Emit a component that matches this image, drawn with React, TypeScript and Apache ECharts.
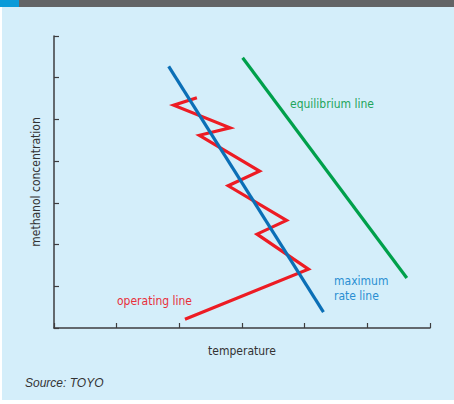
import React, { useEffect, useRef } from "react";
import * as echarts from "echarts";

// Data (axis units: x 0..6, y 0..7)
const maxRateX = [1.83, 4.3];
const maxRateY = [6.27, 0.38];
const equilibriumX = [3.01, 5.63];
const equilibriumY = [6.48, 1.2];
const operatingX = [2.28, 1.91, 2.81, 2.32, 3.28, 2.78, 3.71, 3.24, 4.06, 2.09];
const operatingY = [5.52, 5.34, 4.8, 4.62, 3.76, 3.41, 2.58, 2.25, 1.41, 0.21];

const xTitle = "temperature";
const yTitle = "methanol concentration";
const source = "Source: TOYO";

const toPairs = (xs: number[], ys: number[]) => xs.map((x, i) => [x, ys[i]]);

const NARROW = "'DejaVu Sans Condensed', 'DejaVu Sans', sans-serif";

export default function App() {
  const ref = useRef<HTMLDivElement>(null);
  useEffect(() => {
    if (!ref.current) return;
    const chart = echarts.init(ref.current, undefined, { renderer: "svg" });
    const axisColor = "#3d3d3f";
    chart.setOption({
      animation: false,
      backgroundColor: "#ffffff",
      grid: { left: 54, right: 24, top: 36, bottom: 76 },
      xAxis: {
        type: "value",
        min: 0,
        max: 6,
        interval: 1,
        name: xTitle,
        nameLocation: "middle",
        nameGap: 17,
        nameTextStyle: { color: "#333", fontSize: 12, fontFamily: NARROW },
        axisLine: { show: true, lineStyle: { color: axisColor, width: 1.5 } },
        axisTick: { show: true, inside: true, length: 5, lineStyle: { color: axisColor, width: 1.2 } },
        axisLabel: { show: false },
        splitLine: { show: false },
      },
      yAxis: {
        type: "value",
        min: 0,
        max: 7,
        interval: 1,
        name: yTitle,
        nameLocation: "middle",
        nameGap: 12,
        nameTextStyle: { color: "#333", fontSize: 12, fontFamily: NARROW },
        axisLine: { show: true, lineStyle: { color: axisColor, width: 1.5 } },
        axisTick: { show: true, inside: true, length: 5, lineStyle: { color: axisColor, width: 1.2 } },
        axisLabel: { show: false },
        splitLine: { show: false },
      },
      series: [
        {
          type: "line",
          data: toPairs(equilibriumX, equilibriumY),
          showSymbol: false,
          lineStyle: { color: "#00a04b", width: 3.2, cap: "butt" },
          z: 3,
        },
        {
          type: "line",
          data: toPairs(operatingX, operatingY),
          showSymbol: false,
          lineStyle: { color: "#ed1c24", width: 3.2, cap: "butt", join: "miter" },
          z: 3,
        },
        {
          type: "line",
          data: toPairs(maxRateX, maxRateY),
          showSymbol: false,
          lineStyle: { color: "#0b6fb6", width: 3.2, cap: "butt" },
          z: 4,
        },
      ],
      graphic: [
        { type: "rect", z: -10, shape: { x: 2, y: 7, width: 452, height: 393 }, style: { fill: "#d4eefa" } },
        { type: "rect", z: -10, shape: { x: 0, y: 0, width: 454, height: 7 }, style: { fill: "#636466" } },
        { type: "rect", z: -9, shape: { x: 0, y: 0, width: 19, height: 7 }, style: { fill: "#0a9bd9" } },
        {
          type: "text", z: 50, x: 290, y: 104,
          style: { text: "equilibrium line", fill: "#1fa55c", font: `12px ${NARROW}`, textVerticalAlign: "middle" },
        },
        {
          type: "text", z: 50, x: 334, y: 281,
          style: { text: "maximum", fill: "#2a8ed2", font: `12px ${NARROW}`, textVerticalAlign: "middle" },
        },
        {
          type: "text", z: 50, x: 334, y: 296,
          style: { text: "rate line", fill: "#2a8ed2", font: `12px ${NARROW}`, textVerticalAlign: "middle" },
        },
        {
          type: "text", z: 50, x: 117, y: 301,
          style: { text: "operating line", fill: "#e8303a", font: `12px ${NARROW}`, textVerticalAlign: "middle" },
        },
        {
          type: "text", z: 50, x: 25, y: 383,
          style: { text: source, fill: "#333", font: "italic 12px 'Liberation Sans', Arial, sans-serif", textVerticalAlign: "middle" },
        },
      ],
    });
    return () => chart.dispose();
  }, []);
  return <div ref={ref} style={{ position: "fixed", left: 0, top: 0, width: 454, height: 404 }} />;
}
